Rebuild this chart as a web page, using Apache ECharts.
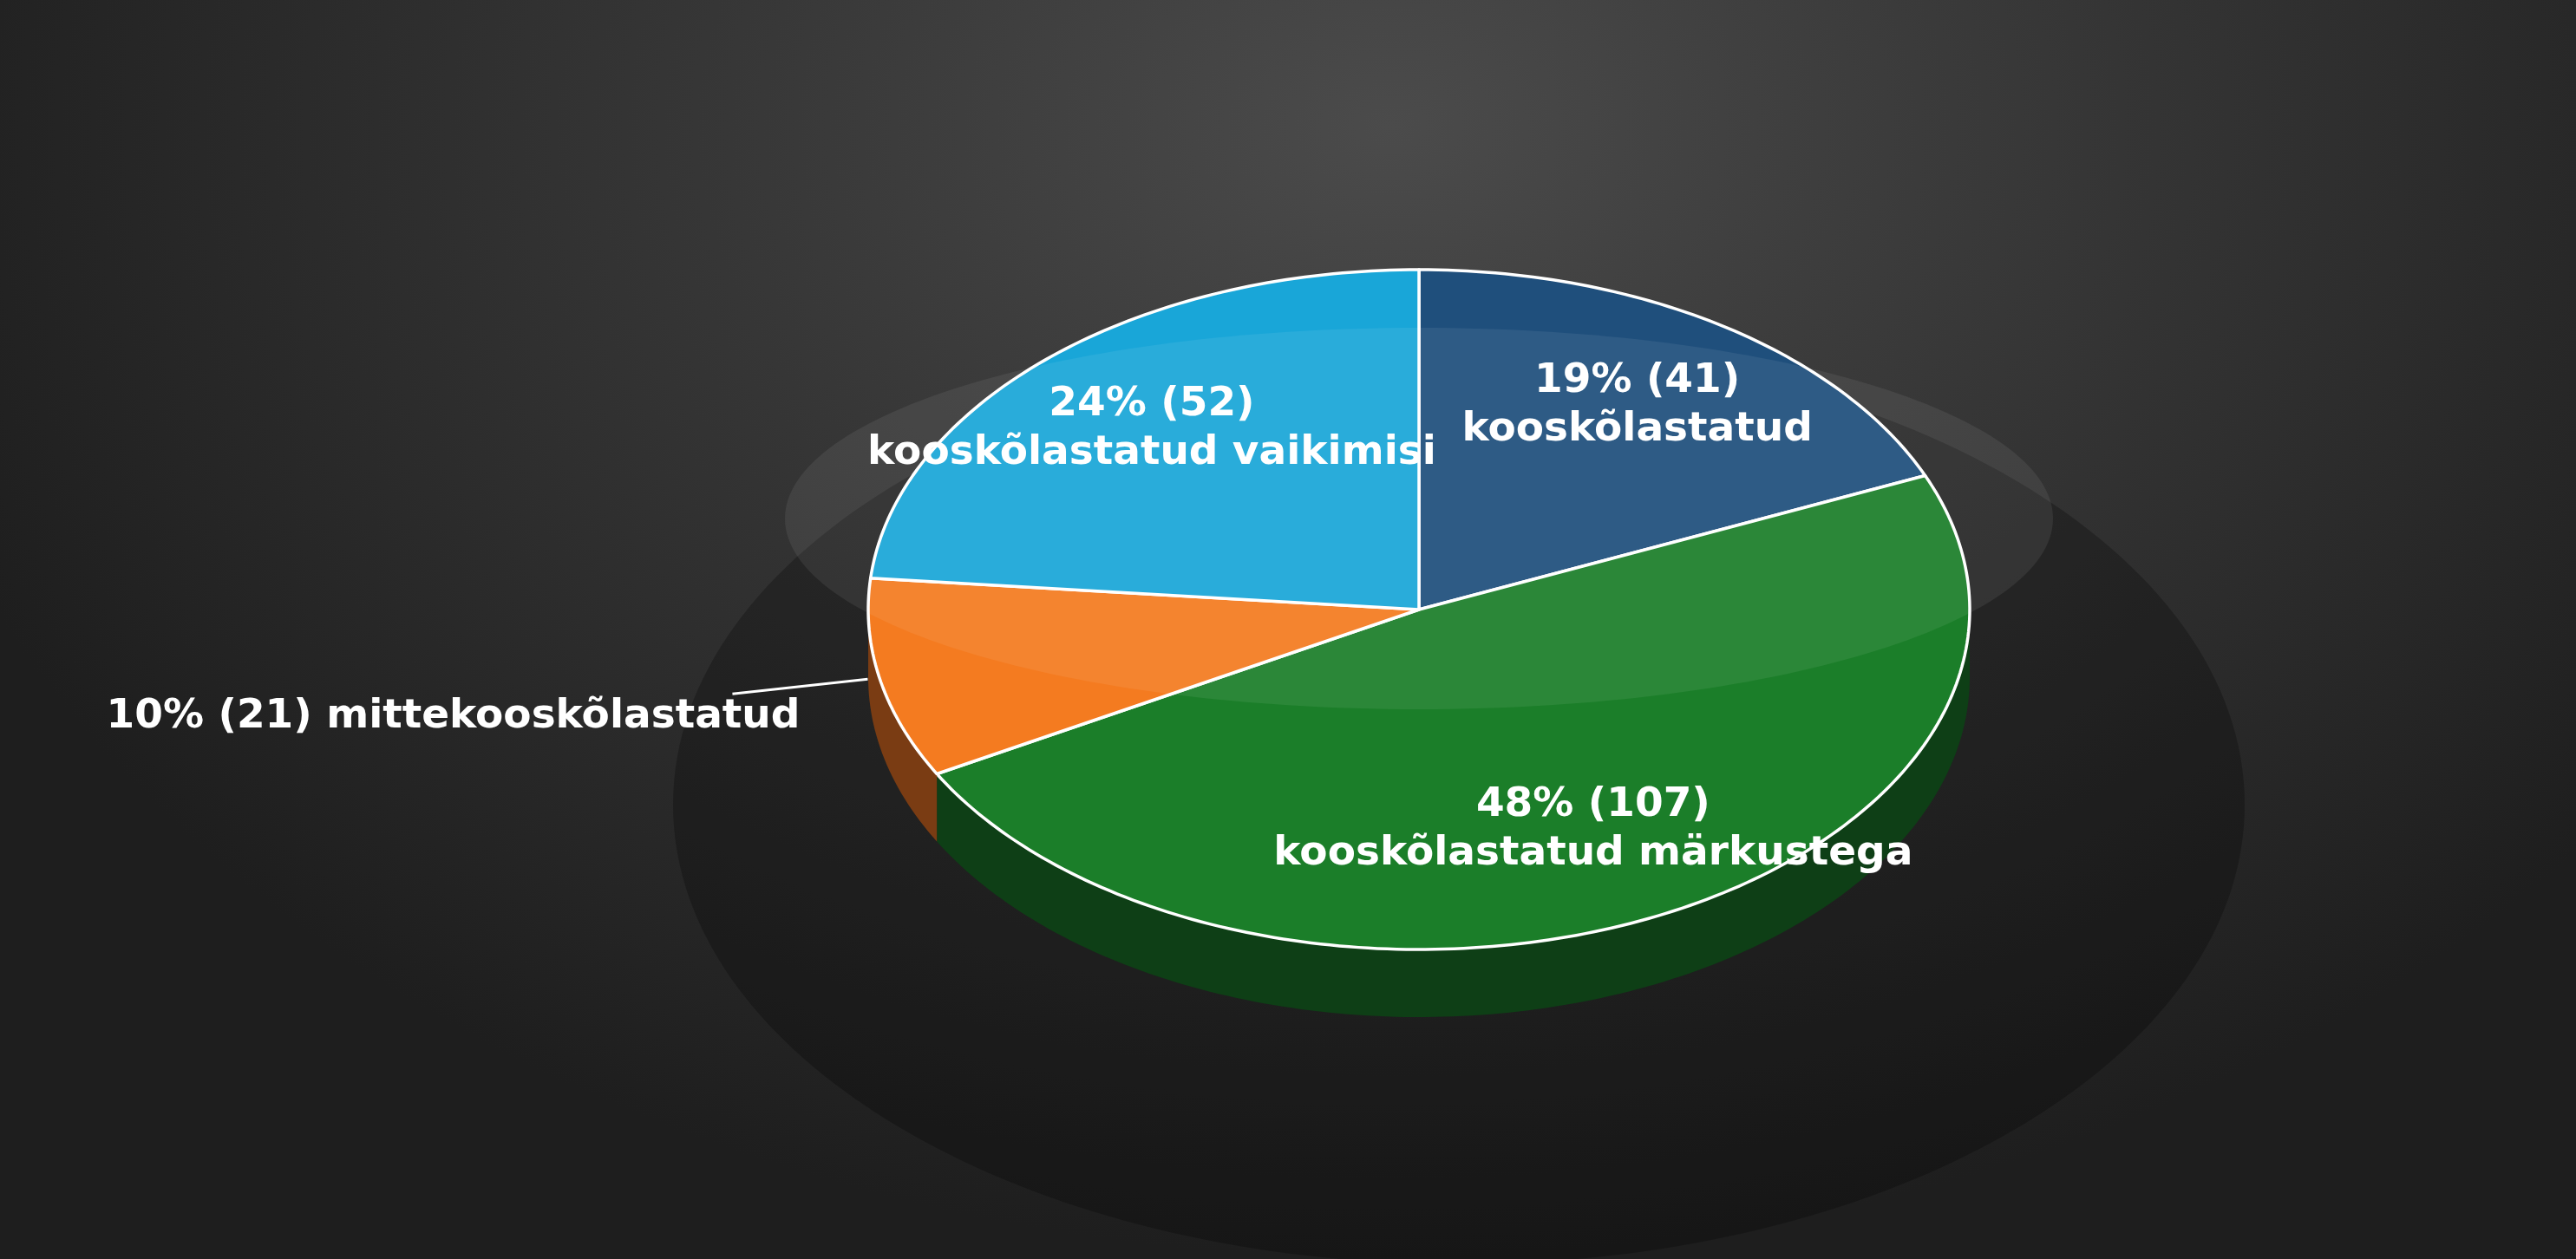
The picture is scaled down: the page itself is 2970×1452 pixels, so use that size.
<!DOCTYPE html>
<html><head><meta charset="utf-8">
<script src="https://cdn.jsdelivr.net/npm/echarts@6/dist/echarts.min.js"></script>
<style>html,body{margin:0;padding:0;width:100%;height:100%;background:radial-gradient(ellipse 60% 90% at 54% 10%,#4b4b4b 0%,#363636 45%,#1e1e1e 100%);}#c{width:2970px;height:1452px;}</style>
</head><body><div id="c"></div>
<script>
const categories=['kooskõlastatud','kooskõlastatud märkustega','mittekooskõlastatud','kooskõlastatud vaikimisi'];
const values=[41,107,21,52];
const topColors=['#1f4f7c','#1b7e29','#f47b20','#19a6d8'];
const sideColors=['#1b3a57','#0e3f16','#7a3c13','#15607c'];
const total=values.reduce((a,b)=>a+b,0);
const CX=1636,CY=703,RX=635,RY=392,DEPTH=78;
function pt(a,f){const r=a*Math.PI/180;return [CX+RX*f*Math.cos(r),CY-RY*f*Math.sin(r)];}
function angles(i){let c=0;for(let k=0;k<i;k++)c+=values[k];const a0=90-c/total*360;return [a0,a0-values[i]/total*360];}
function arc(a0,a1,f){const pts=[];const n=Math.max(2,Math.ceil(Math.abs(a0-a1)));for(let j=0;j<=n;j++)pts.push(pt(a0+(a1-a0)*j/n,f));return pts;}
const chart=echarts.init(document.getElementById('c'));
function renderSlice(params,api){
  const i=params.dataIndex;const [a0,a1]=angles(i);const ch=[];
  const lo=Math.max(a1,-180),hi=Math.min(a0,0);
  if(hi>lo){const top=arc(hi,lo,1);const bot=top.map(p=>[p[0],p[1]+DEPTH]).reverse();
    ch.push({type:'polygon',shape:{points:top.concat(bot)},style:{fill:sideColors[i]}});}
  ch.push({type:'polygon',shape:{points:[[CX,CY]].concat(arc(a0,a1,1))},style:{fill:topColors[i],stroke:'#ffffff',lineWidth:3.5,lineJoin:'round'}});
  return {type:'group',children:ch};
}
function renderLabel(params,api){
  const i=params.dataIndex;const [a0,a1]=angles(i);const m=(a0+a1)/2;
  const pct=Math.round(values[i]/total*100)+'% ('+values[i]+')';
  const font='bold 47px "DejaVu Sans"';
  if(values[i]/total>0.12){const p=pt(m,0.72);
    return {type:'text',x:p[0],y:p[1],style:{text:pct+'\n'+categories[i],fill:'#fff',font:font,align:'center',verticalAlign:'middle',lineHeight:56}};}
  const p=pt(m,1.0);const e=[p[0]-170,p[1]+17];
  return {type:'group',children:[
    {type:'polyline',shape:{points:[[p[0]-14,p[1]],e]},style:{stroke:'#fff',lineWidth:3,fill:null}},
    {type:'text',x:e[0]+78,y:e[1]+27,style:{text:pct+' '+categories[i],fill:'#fff',font:font,align:'right',verticalAlign:'middle'}}]};
}
chart.setOption({
  backgroundColor:'transparent',
  graphic:[
    {type:'ellipse',shape:{cx:1682,cy:928,rx:906,ry:530},style:{fill:'rgba(0,0,0,0.25)'},z:0},
    {type:'ellipse',shape:{cx:1636,cy:598,rx:731,ry:220},style:{fill:'rgba(255,255,255,0.07)'},z:50}
  ],
  series:[
    {type:'custom',coordinateSystem:'none',renderItem:renderSlice,data:values.map((v,i)=>[v,i]),z:10,silent:true},
    {type:'custom',coordinateSystem:'none',renderItem:renderLabel,data:values.map((v,i)=>[v,i]),z:100,silent:true}
  ]
});
</script></body></html>
